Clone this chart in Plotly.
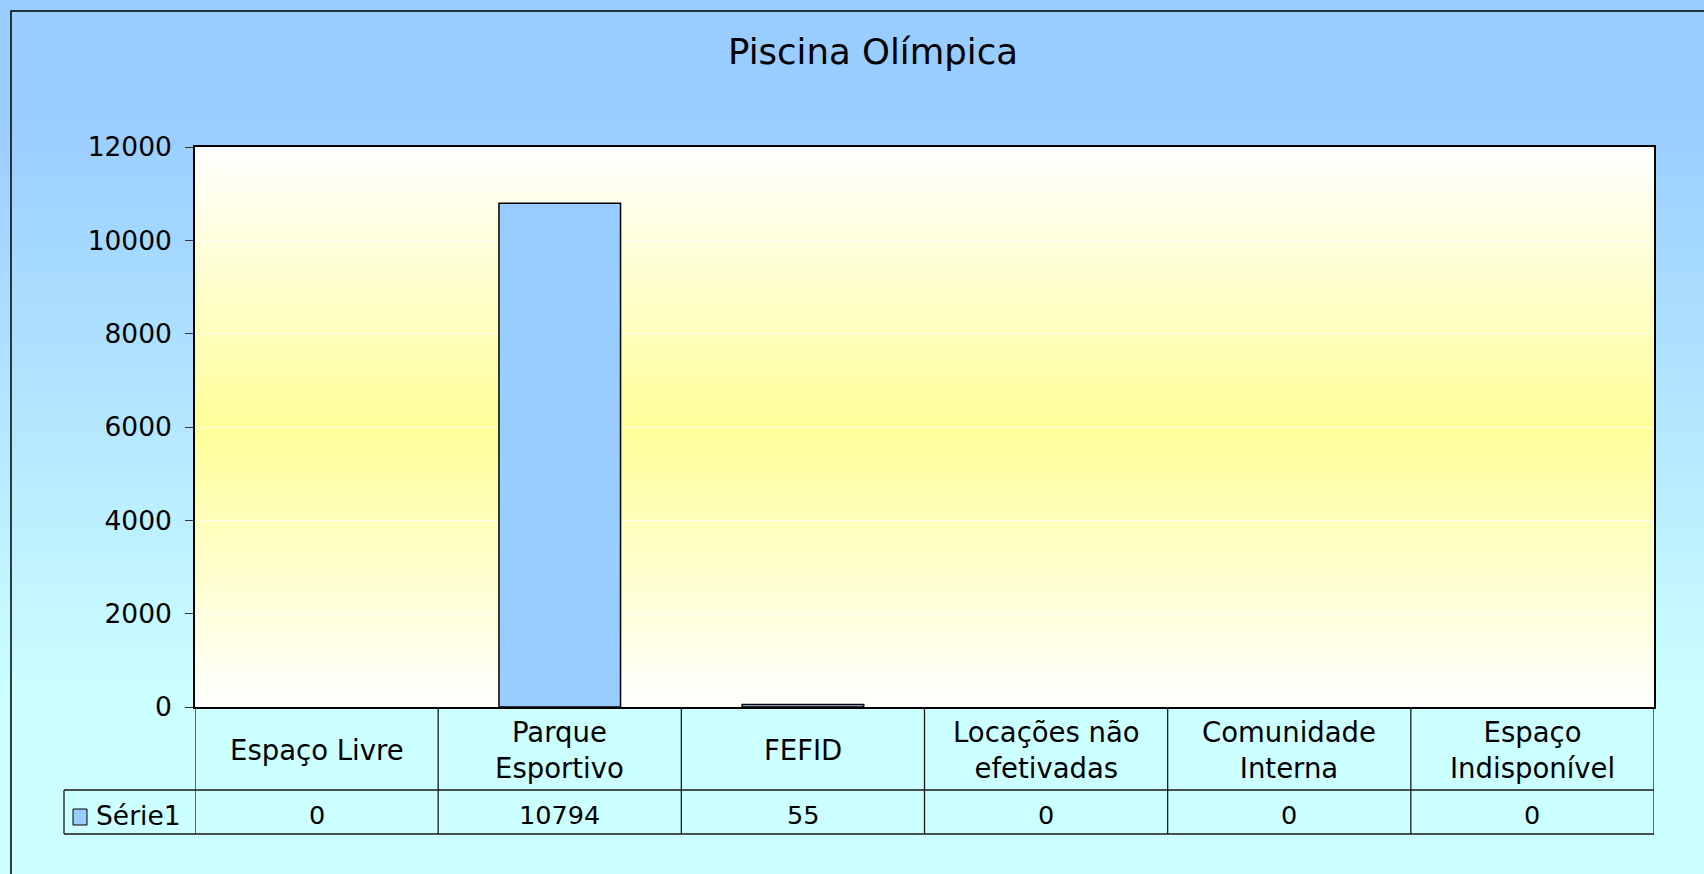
import plotly.graph_objects as go

# ---------------- data ----------------
categories = ["Espaço Livre", "Parque<br>Esportivo", "FEFID", "Locações não<br>efetivadas",
              "Comunidade<br>Interna", "Espaço<br>Indisponível"]
values = [0, 10794, 55, 0, 0, 0]
series_name = "Série1"
title_text = "Piscina Olímpica"
y_ticks = [0, 2000, 4000, 6000, 8000, 10000, 12000]

# ---------------- geometry (pixels) ----------------
W, H = 1704, 874
PL, PR, PT, PB = 195, 1654, 147, 707   # plot area
ROW1_BOT = 790                          # header row bottom
ROW2_BOT = 834                          # value row bottom
LEG_L = 64                              # legend cell left

def px(x):
    return x / W

def py(y):
    return 1 - y / H

FONT = "DejaVu Sans"
n = len(categories)
xs = list(range(n))

fig = go.Figure()

# chart background gradient (full paper)
fig.add_trace(go.Heatmap(
    x=[0, 1], y=[0, 0.2, 0.88, 1],
    z=[[0, 0], [0, 0], [1, 1], [1, 1]],
    colorscale=[[0, "#CCFFFF"], [1, "#99CCFF"]],
    zsmooth="best", showscale=False, hoverinfo="skip",
    xaxis="x", yaxis="y"))

# plot area gradient
fig.add_trace(go.Heatmap(
    x=[0, 1], y=[0, 0.5, 1],
    z=[[0, 0], [1, 1], [0, 0]],
    colorscale=[[0, "#FFFFFF"], [1, "#FFFF99"]],
    zsmooth="best", showscale=False, hoverinfo="skip",
    xaxis="x2", yaxis="y2"))

# bars (no outline drawn for empty bars)
fig.add_trace(go.Bar(
    x=xs, y=values, name=series_name, width=0.5,
    marker=dict(color="#99CCFF",
                line=dict(color="black", width=[1.5 if v > 0 else 0 for v in values])),
    xaxis="x3", yaxis="y3", hoverinfo="y"))

hidden = dict(visible=False, showgrid=False, zeroline=False, fixedrange=True, automargin=False)
plot_dom_x = [px(PL), px(PR)]
plot_dom_y = [py(PB), py(PT)]

fig.update_layout(
    width=W, height=H,
    margin=dict(l=0, r=0, t=0, b=0, pad=0, autoexpand=False),
    paper_bgcolor="#CCFFFF",
    plot_bgcolor="rgba(0,0,0,0)",
    showlegend=False,
    font=dict(family=FONT, color="black", size=25),
    xaxis=dict(domain=[0, 1], range=[0, 1], **hidden),
    yaxis=dict(domain=[0, 1], range=[0, 1], **hidden),
    xaxis2=dict(domain=plot_dom_x, range=[0, 1], anchor="y2", **hidden),
    yaxis2=dict(domain=plot_dom_y, range=[0, 1], anchor="x2", **hidden),
    xaxis3=dict(domain=plot_dom_x, range=[-0.5, n - 0.5], anchor="y3",
                showticklabels=False, ticks="", showgrid=False, zeroline=False,
                showline=True, linecolor="black", linewidth=2, mirror=True,
                fixedrange=True, automargin=False),
    yaxis3=dict(domain=plot_dom_y, range=[0, 12000], anchor="x3",
                tickvals=y_ticks, ticktext=[str(t) for t in y_ticks],
                ticks="outside", ticklen=8, tickcolor="#333333", tickwidth=1,
                ticklabelstandoff=8,
                tickfont=dict(size=26.5, family=FONT, color="black"),
                showgrid=True, gridcolor="rgba(255,255,255,0.8)", gridwidth=1.2,
                zeroline=False, showline=True, linecolor="black", linewidth=1.5,
                mirror=True, fixedrange=True, automargin=False),
    title=dict(text=title_text, x=px(873), y=py(52), xanchor="center", yanchor="middle",
               font=dict(size=35.5, family=FONT, color="black")),
)

shapes = []
line_col = "#1a1a1a"
# outer chart border (left and top visible)
shapes.append(dict(type="rect", xref="paper", yref="paper",
                   x0=px(11), x1=1.02, y0=-0.02, y1=py(11),
                   line=dict(color="black", width=1.5), layer="above"))
# vertical table lines at category boundaries
for i in range(n + 1):
    shapes.append(dict(type="line", xref="x3", yref="paper",
                       x0=i - 0.5, x1=i - 0.5, y0=py(PB), y1=py(ROW2_BOT),
                       line=dict(color=line_col, width=1.3)))
# legend cell left line
shapes.append(dict(type="line", xref="paper", yref="paper",
                   x0=px(LEG_L), x1=px(LEG_L), y0=py(ROW1_BOT), y1=py(ROW2_BOT),
                   line=dict(color=line_col, width=1.3)))
# horizontal table lines
for yy in (ROW1_BOT, ROW2_BOT):
    shapes.append(dict(type="line", xref="paper", yref="paper",
                       x0=px(LEG_L), x1=px(PR), y0=py(yy), y1=py(yy),
                       line=dict(color=line_col, width=1.3)))
# legend key square
shapes.append(dict(type="rect", xref="paper", yref="paper",
                   x0=px(73), x1=px(87), y0=py(825), y1=py(809),
                   fillcolor="#99CCFF", line=dict(color="black", width=1)))
fig.update_layout(shapes=shapes)

annotations = []
for i, (c, v) in enumerate(zip(categories, values)):
    annotations.append(dict(x=i, y=py((PB + ROW1_BOT) / 2 + 1), xref="x3", yref="paper",
                            text=c, showarrow=False, xanchor="center", yanchor="middle",
                            font=dict(size=27.5, family=FONT, color="black")))
    annotations.append(dict(x=i, y=py((ROW1_BOT + ROW2_BOT) / 2 + 3), xref="x3", yref="paper",
                            text=str(v), showarrow=False, xanchor="center", yanchor="middle",
                            font=dict(size=25.5, family=FONT, color="black")))
annotations.append(dict(x=px(94), y=py((ROW1_BOT + ROW2_BOT) / 2 + 3), xref="paper", yref="paper",
                        text=series_name, showarrow=False, xanchor="left", yanchor="middle",
                        font=dict(size=26.5, family=FONT, color="black")))
fig.update_layout(annotations=annotations)

fig.write_html("out.html", config={"displayModeBar": False},
               post_script="document.body.style.margin='0';document.body.style.overflow='hidden';")
